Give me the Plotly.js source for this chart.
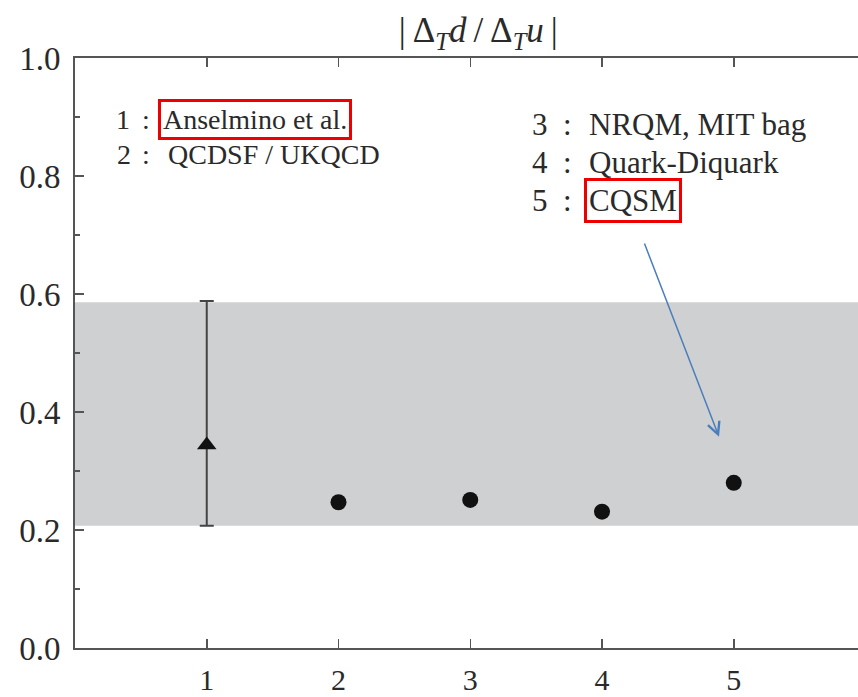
<!DOCTYPE html>
<html>
<head>
<meta charset="utf-8">
<script src="https://cdn.plot.ly/plotly-3.0.1.min.js"></script>
<style>html,body{margin:0;padding:0;background:#fff;}#chart{width:858px;height:697px;}</style>
</head>
<body>
<div id="chart"></div>
<script>
// ---- data ----
var modelIndex = [1, 2, 3, 4, 5];
var ratioValues = [0.344, 0.247, 0.251, 0.231, 0.280];
var anselminoErrPlus = [0.244];
var anselminoErrMinus = [0.137];
var bandLow = 0.207;
var bandHigh = 0.586;
var xTickVals = [1, 2, 3, 4, 5];
var xTickText = ['1', '2', '3', '4', '5'];
var yTickVals = [0.0, 0.2, 0.4, 0.6, 0.8, 1.0];
var yTickText = ['0.0', '0.2', '0.4', '0.6', '0.8', '1.0'];
var legendNums = ['1', '2', '3', '4', '5'];
var legendNames = ['Anselmino et al.', 'QCDSF / UKQCD', 'NRQM, MIT bag', 'Quark-Diquark', 'CQSM'];

// ---- layout helpers (pixel -> paper) ----
var L = 75, T = 58, W = 783, H = 590;
function P(px) { return (px - L) / W; }
function Q(py) { return (T + H - py) / H; }

var serif = 'Liberation Serif';
var textCol = '#2a2a2a';
var axisCol = '#555555';

var traces = [
  {
    x: modelIndex.slice(0, 1), y: ratioValues.slice(0, 1),
    type: 'scatter', mode: 'markers',
    marker: {symbol: 'triangle-up', size: 17, color: '#111'},
    error_y: {type: 'data', symmetric: false, array: anselminoErrPlus, arrayminus: anselminoErrMinus,
              color: '#444', thickness: 2, width: 7},
    hoverinfo: 'x+y', showlegend: false
  },
  {
    x: modelIndex.slice(1), y: ratioValues.slice(1),
    type: 'scatter', mode: 'markers',
    marker: {symbol: 'circle', size: 16, color: '#111'},
    hoverinfo: 'x+y', showlegend: false
  }
];

var ann = [];
var rowsLeft = [{py: 119, numX: 123, colX: 146, labX: 158, boxed: true},
                {py: 155, numX: 124, colX: 146, labX: 163, boxed: false}];
var rowsRight = [{py: 124, numX: 540, colX: 567, labX: 584, boxed: false},
                 {py: 162, numX: 540, colX: 567, labX: 584, boxed: false},
                 {py: 200, numX: 540, colX: 567, labX: 584, boxed: true}];
function addRow(r, i, fs) {
  ann.push({xref: 'paper', yref: 'paper', x: P(r.numX), y: Q(r.py), xanchor: 'center', yanchor: 'middle',
            text: legendNums[i], showarrow: false, font: {family: serif, size: fs, color: textCol}});
  ann.push({xref: 'paper', yref: 'paper', x: P(r.colX), y: Q(r.py), xanchor: 'center', yanchor: 'middle',
            text: ':', showarrow: false, font: {family: serif, size: fs, color: textCol}});
  ann.push({xref: 'paper', yref: 'paper', x: P(r.labX), y: Q(r.py), xanchor: 'left', yanchor: 'middle',
            text: legendNames[i], showarrow: false, font: {family: serif, size: fs, color: textCol},
            bordercolor: r.boxed ? '#ee0000' : 'rgba(0,0,0,0)', borderwidth: 3, borderpad: 2});
}
rowsLeft.forEach(function (r, i) { addRow(r, i, 28); });
rowsRight.forEach(function (r, i) { addRow(r, i + 2, 31); });

// arrow pointing at CQSM point
ann.push({xref: 'x', yref: 'y', axref: 'x', ayref: 'y',
          x: 4.888, y: 0.358, ax: 4.318, ay: 0.688, text: '', showarrow: true,
          arrowhead: 5, arrowsize: 1.6, arrowwidth: 1.5, arrowcolor: '#4a7ebb'});

var layout = {
  width: 858, height: 697,
  margin: {l: L, r: 858 - L - W, t: T, b: 697 - T - H, pad: 0},
  paper_bgcolor: '#ffffff', plot_bgcolor: '#ffffff',
  font: {family: serif, color: textCol},
  title: {text: '|\u2009Δ<sub><i>T</i></sub><i>d</i>\u2009/\u2009Δ<sub><i>T</i></sub><i>u</i>\u2009|',
          font: {family: serif, size: 35, color: textCol},
          x: 0.515, xref: 'paper', xanchor: 'center', y: 1 - 30 / 697, yanchor: 'middle'},
  xaxis: {range: [0, 5.943], tickvals: xTickVals, ticktext: xTickText,
          ticks: 'inside', ticklen: 9, tickwidth: 1.5, tickcolor: axisCol,
          showline: true, linecolor: axisCol, linewidth: 2, mirror: 'ticks',
          showgrid: false, zeroline: false, ticklabelstandoff: 4,
          tickfont: {family: serif, size: 30, color: textCol}},
  yaxis: {range: [0, 1], tickvals: yTickVals, ticktext: yTickText,
          ticks: 'inside', ticklen: 9, tickwidth: 1.5, tickcolor: axisCol,
          minor: {dtick: 0.1, ticks: 'inside', ticklen: 5, tickwidth: 1.5, tickcolor: axisCol, showgrid: false},
          showline: true, linecolor: axisCol, linewidth: 2, mirror: false,
          showgrid: false, zeroline: false, ticklabelstandoff: 6,
          tickfont: {family: serif, size: 33, color: textCol}},
  shapes: [{type: 'rect', xref: 'paper', yref: 'y', x0: 0, x1: 1, y0: bandLow, y1: bandHigh,
            fillcolor: '#cfd0d2', line: {width: 0}, layer: 'below'}],
  annotations: ann,
  showlegend: false
};

Plotly.newPlot('chart', traces, layout, {displayModeBar: false, staticPlot: true});
</script>
</body>
</html>
